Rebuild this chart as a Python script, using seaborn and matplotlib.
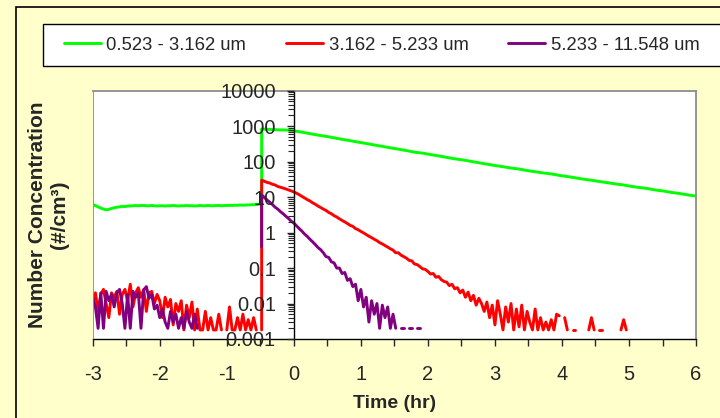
import numpy as np
import pandas as pd
import seaborn as sns
import matplotlib
matplotlib.use('Agg')
from matplotlib import pyplot as plt
from matplotlib.patches import Rectangle
from matplotlib.ticker import LogLocator, MultipleLocator, NullFormatter

nan = np.nan

SERIES = ['0.523 - 3.162 um', '3.162 - 5.233 um', '5.233 - 11.548 um']
COLORS = ['#00ff00', '#ff0000', '#800080']

# time grids (hr): background before the release, decay after it
PRE_START = -3.0
PRE_STEP = 0.04
RELEASE = -0.48
POST_STEP = 0.04
GREEN_POST_STEP = 0.12

# number concentration (#/cm3); nan = zero count (gap)
GREEN_PRE = [
    6.0, 5.8, 5.3, 4.9, 4.6, 4.4, 4.5, 4.8,
    5.0, 5.2, 5.3, 5.5, 5.4, 5.6, 5.6, 5.7,
    5.8, 5.7, 5.8, 5.8, 5.7, 5.7, 5.8, 5.7,
    5.6, 5.7, 5.7, 5.6, 5.7, 5.7, 5.8, 5.7,
    5.6, 5.7, 5.7, 5.8, 5.7, 5.7, 5.6, 5.7,
    5.8, 5.7, 5.7, 5.8, 5.7, 5.7, 5.8, 5.8,
    5.7, 5.8, 5.8, 5.9, 5.8, 5.9, 5.9, 6.0,
    5.9, 6.0, 6.0, 6.1, 6.1, 6.2, 6.3, 6.3,
]
GREEN_POST = [
    830, 810, 790, 780,
    740, 680, 615, 560, 515, 470, 425, 390, 355, 325,
    295, 270, 245, 225, 205, 185, 174, 158, 145, 132,
    120, 112, 102, 93, 85,
    78, 72, 66, 62, 56, 52, 48, 45, 41, 38,
    35, 32, 30, 27.5, 25.5, 23.5, 22, 20, 18.6, 17.4,
    15.8, 14.8, 13.5, 12.6, 11.5, 10.7,
]

RED_PRE = [
    0.012, 0.02, 0.006, 0.018, 0.025, 0.01, 0.004, 0.02,
    0.015, 0.022, 0.005, 0.018, 0.025, 0.012, 0.035, 0.008,
    0.02, 0.028, 0.015, 0.025, 0.006, 0.02, 0.022, 0.01,
    0.018, 0.012, 0.004, 0.015, 0.008, 0.013, 0.0025, 0.01,
    0.006, 0.012, 0.0018, 0.009, 0.004, 0.011, 0.0018, 0.007,
    0.0018, 0.0018, 0.006, 0.0018, 0.004, 0.0018, 0.0018, 0.005,
    0.0018, nan, 0.0018, 0.008, 0.0018, 0.0018, 0.004, 0.0018,
    0.005, 0.0018, 0.0035, 0.0018, 0.004, 0.0018, nan, 0.0018,
]
RED_POST = [
    30, 28, 26, 25, 23, 22, 20, 19, 18, 17,
    16, 15, 14, 12.9, 11.7, 10.5, 9.5, 8.5, 7.8, 6.9,
    6.3, 5.6, 5.1, 4.6, 4.2, 3.7, 3.4, 3.0, 2.75, 2.45,
    2.2, 2.0, 1.8, 1.6, 1.5, 1.3, 1.2, 1.08, 0.98, 0.88,
    0.79, 0.72, 0.65, 0.59, 0.52, 0.48, 0.43, 0.39, 0.35, 0.32,
    0.27, 0.27, 0.23, 0.21, 0.19, 0.165, 0.16, 0.13, 0.125, 0.11,
    0.095, 0.092, 0.08, 0.068, 0.07, 0.055, 0.058, 0.047, 0.042, 0.04,
    0.032, 0.035, 0.026, 0.028, 0.02, 0.024, 0.015, 0.021, 0.012, 0.017,
    0.009, 0.014, 0.01, 0.006, 0.011, 0.004, 0.009, 0.0025, 0.012, 0.005,
    0.0018, 0.008, 0.003, 0.01, 0.0018, 0.007, 0.0022, 0.009, 0.0018, 0.006,
    0.003, 0.0018, 0.007, 0.0018, 0.004, 0.0018, 0.003, 0.0018, 0.0035, 0.0018,
    0.005, 0.0045, nan, 0.004, 0.0018, nan, 0.0018, 0.0018, nan, nan,
    nan, nan, 0.0018, 0.004, 0.0018, nan, 0.0018, 0.0018, nan, nan,
    nan, nan, nan, nan, 0.0018, 0.0035, 0.0018, nan, nan, nan,
]

PURPLE_PRE = [
    0.015, 0.008, 0.002, 0.02, 0.002, 0.022, 0.012, 0.018,
    0.008, 0.02, 0.025, 0.01, 0.002, 0.018, 0.002, 0.022,
    0.015, 0.02, 0.002, 0.024, 0.03, 0.014, 0.018, 0.007,
    0.009, 0.004, 0.007, 0.003, 0.002, 0.006, 0.003, 0.005,
    0.002, 0.004, 0.002, 0.006, 0.003, 0.002, 0.005, 0.002,
] + [nan] * 23 + [0.4]
PURPLE_POST = [
    11.5, 9.8, 8.3, 7.2, 6.2, 5.2, 4.6, 3.9, 3.4, 2.9,
    2.5, 2.1, 1.86, 1.55, 1.3, 1.1, 0.91, 0.78, 0.65, 0.55,
    0.46, 0.38, 0.33, 0.27, 0.21, 0.2, 0.15, 0.14, 0.1, 0.1,
    0.07, 0.075, 0.045, 0.05, 0.03, 0.035, 0.012, 0.025, 0.008, 0.015,
    0.003, 0.012, 0.005, 0.01, 0.002, 0.009, 0.004, 0.008, 0.002, 0.005,
    0.002, nan, 0.002, 0.002, nan, 0.002, 0.002, nan, 0.002, 0.002,
]

XTICKS = list(range(-3, 7))
YTICKS = [0.001, 0.01, 0.1, 1, 10, 100, 1000, 10000]

BG = '#ffffcc'
GRAY = '#8c8c8c'
W, H = 720, 418


def series_frame(name, pre, post, post_step):
    t_pre = PRE_START + PRE_STEP * np.arange(len(pre))
    t_post = RELEASE + post_step * np.arange(len(post))
    df = pd.DataFrame({
        'time': np.concatenate([t_pre, t_post]),
        'conc': np.concatenate([pre, post]).astype(float),
    })
    df['series'] = name
    # zero counts break the line, so every run between gaps is its own unit
    df['segment'] = df.conc.isna().cumsum()
    return df.dropna()


df = pd.concat([
    series_frame(SERIES[0], GREEN_PRE, GREEN_POST, GREEN_POST_STEP),
    series_frame(SERIES[1], RED_PRE, RED_POST, POST_STEP),
    series_frame(SERIES[2], PURPLE_PRE, PURPLE_POST, POST_STEP),
], ignore_index=True)

sns.set_style('ticks')
plt.rcParams['font.family'] = ['Liberation Sans', 'DejaVu Sans']
plt.rcParams['axes.unicode_minus'] = False

fig = plt.figure(figsize=(W / 100, H / 100), dpi=100, facecolor=BG)
ax = fig.add_axes([0.1288, 0.1890, 0.8379, 0.5940])
ax.set_facecolor('white')

sns.lineplot(
    data=df, x='time', y='conc', hue='series', hue_order=SERIES,
    palette=dict(zip(SERIES, COLORS)), units='segment', estimator=None,
    sort=False, linewidth=2.1, ax=ax,
)

ax.set_yscale('log')
ax.set_ylim(0.001, 10000)
ax.set_xlim(-3, 6)

# excel style frame: y axis crosses at time 0, grey plot-area border
ax.spines['left'].set_position(('data', 0))
for side in ['left', 'bottom']:
    ax.spines[side].set_color('black')
    ax.spines[side].set_linewidth(1)
for side in ['top', 'right']:
    ax.spines[side].set_color(GRAY)
    ax.spines[side].set_linewidth(1.3)
ax.axvline(-3, color=GRAY, linewidth=1.3, zorder=3)
ax.set_axisbelow(False)

ax.set_yticks(YTICKS)
ax.set_yticklabels(['{:g}'.format(v) for v in YTICKS])
ax.yaxis.set_minor_locator(LogLocator(base=10, subs=np.arange(2, 10) * 1.0, numticks=20))
ax.yaxis.set_minor_formatter(NullFormatter())
ax.tick_params(axis='y', which='major', direction='out', length=5, width=1, pad=8, labelsize=14.5)
ax.tick_params(axis='y', which='minor', direction='out', length=4, width=0.8)

ax.set_xticks(XTICKS)
ax.xaxis.set_minor_locator(MultipleLocator(0.5))
ax.tick_params(axis='x', which='both', direction='out', length=5, width=1, pad=14, labelsize=14.5)

ax.set_xlabel('Time (hr)', fontsize=14, fontweight='bold')
ax.xaxis.set_label_coords(0.5, -0.258)
ax.xaxis.label.set_va('center')
ax.set_ylabel('Number Concentration\n(#/cm³)', fontsize=15, fontweight='bold', linespacing=1.2)
ax.yaxis.set_label_coords((48.5 - 92.7) / 603.3, 0.5)
ax.yaxis.label.set_va('center')

# legend box spans past the right edge of the image, so its frame is drawn apart
fig.patches.append(Rectangle(
    (43.3 / W, 1 - 66 / H), (740 - 43.3) / W, 42 / H, transform=fig.transFigure,
    facecolor='white', edgecolor='black', linewidth=1.0, zorder=1,
))
handles, labels = ax.get_legend_handles_labels()
ax.get_legend().remove()
leg = fig.legend(
    handles, labels, loc='center left', ncol=3,
    bbox_to_anchor=(64 / W, 1 - 45 / H),
    borderaxespad=0, borderpad=0, fontsize=13.3, frameon=False,
    handlelength=2.0, handletextpad=0.3, columnspacing=2.15,
)

# outer chart border (right and bottom edges fall outside the image)
fig.patches.append(Rectangle(
    (15.7 / W, -0.1), 1.2, 1 - 6.7 / H + 0.1, transform=fig.transFigure,
    fill=False, edgecolor='black', linewidth=1.2,
))

fig.savefig('out.png', dpi=100, facecolor=BG)
